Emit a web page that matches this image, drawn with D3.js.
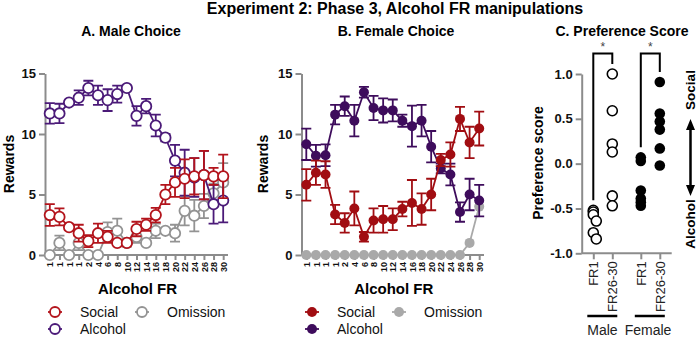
<!DOCTYPE html>
<html>
<head>
<meta charset="utf-8">
<script src="https://cdn.jsdelivr.net/npm/d3@7"></script>
<style>
  body { margin: 0; background: #fff; }
  svg text { font-family: "Liberation Sans", Arial, sans-serif; }
</style>
</head>
<body>
<svg id="chart" width="698" height="337"></svg>
<script>
/**
 * Data
 */
var frLabels = ["1","1","1","1","2","4","6","8","10","12","14","16","18","20","22","24","26","28","30"];

// A. Male choice (means and SEM)
var maleSocial     = [3.3, 3.15, 2.3, 1.8, 1.15, 1.8, 1.5, 1.0, 1.0, 2.15, 2.5, 3.3, 5.0, 6.0, 6.3, 6.5, 6.6, 6.5, 6.5];
var maleSocialErr  = [0.9, 0.7, 0.2, 0.7, 0.5, 0.8, 0.5, 0.15, 0.15, 0.6, 0.5, 0.6, 0.8, 1.2, 1.6, 1.5, 2.0, 0.7, 1.8];
var maleAlcohol    = [11.7, 11.7, 12.6, 13.0, 13.8, 13.2, 12.8, 13.3, 13.8, 11.5, 12.3, 10.7, 9.7, 7.8, 6.8, 6.4, 6.6, 4.2, 4.5];
var maleAlcoholErr = [0.85, 0.8, 0.2, 0.6, 0.6, 0.8, 0.9, 0.7, 0.2, 0.8, 0.6, 0.9, 0.3, 1.3, 1.9, 1.6, 2.0, 1.6, 1.8];
var maleOmission    = [0, 1.0, 0, 1.0, 0, 0, 1.9, 2.0, 1.0, 1.5, 1.0, 2.0, 2.0, 1.8, 3.65, 3.25, 4.05, 5.1, 6.0];
var maleOmissionErr = [0, 0.6, 0, 0.6, 0, 0, 0.8, 1.0, 0.3, 0.5, 0.2, 0.6, 0.2, 0.7, 1.2, 1.3, 1.0, 0.8, 1.6];

// B. Female choice (means and SEM)
var femaleSocial     = [5.8, 6.8, 6.65, 3.35, 2.65, 3.85, 1.5, 2.85, 2.95, 2.95, 3.8, 4.3, 3.8, 5.0, 7.85, 8.3, 11.25, 9.3, 10.45];
var femaleSocialErr  = [1.3, 1.0, 1.1, 0.8, 0.8, 1.4, 0.4, 1.0, 1.1, 0.9, 0.6, 1.9, 1.3, 1.3, 0.5, 1.0, 1.0, 1.3, 1.4];
var femaleAlcohol    = [9.15, 8.2, 8.25, 11.6, 12.3, 11.1, 13.45, 12.15, 11.95, 11.95, 11.1, 10.65, 11.1, 8.95, 7.15, 6.65, 3.55, 5.0, 4.5];
var femaleAlcoholErr = [1.3, 0.9, 0.9, 0.8, 0.8, 1.3, 0.45, 1.0, 1.0, 0.9, 0.5, 1.7, 1.3, 1.3, 0.4, 0.9, 0.8, 1.3, 1.3];
var femaleOmission    = [0, 0, 0, 0, 0, 0, 0, 0, 0, 0, 0, 0, 0, 0, 0, 0, 0, 1.0, 4.0];
var femaleOmissionErr = [0, 0, 0, 0, 0, 0, 0, 0, 0, 0, 0, 0, 0, 0, 0, 0, 0, 0, 0];

// C. Preference score per rat
var prefGroups = ["FR1", "FR26-30", "FR1", "FR26-30"];
var prefSex = ["Male", "Female"];
var maleFR1    = [-0.52, -0.54, -0.57, -0.64, -0.77, -0.84];
var maleFR26   = [1.0, 0.59, 0.22, 0.13, -0.36, -0.47];
var femaleFR1  = [0.07, 0.03, -0.30, -0.39, -0.43, -0.47];
var femaleFR26 = [0.91, 0.56, 0.47, 0.38, 0.17, -0.02];

var axisColor = "#8c8c8c";
var svg = d3.select("#chart");

/**
 * Title
 */
svg.append("text")
    .attr("x", 395).attr("y", 14)
    .attr("text-anchor", "middle")
    .style("font-size", "16px").style("font-weight", "bold")
    .text("Experiment 2: Phase 3, Alcohol FR manipulations");

function styleAxis(g){
    g.select(".domain").attr("stroke", axisColor).attr("stroke-width", 2);
    g.selectAll(".tick line").attr("stroke", axisColor).attr("stroke-width", 2);
    g.selectAll(".tick text").attr("fill", "#111").style("font-weight", "bold");
}

/**
 * Draw one choice panel (A or B)
 */
function drawChoice(opt){
    let g = svg.append("g");

    let xScale = d3.scalePoint()
        .domain(d3.range(frLabels.length))
        .range([opt.left, opt.right])
        .padding(0.5);

    let yScale = d3.scaleLinear()
        .domain([0, 15])
        .range([255, 73.5]);

    // panel title
    g.append("text")
        .attr("x", opt.titleX).attr("y", 36)
        .attr("text-anchor", "middle")
        .style("font-size", "14px").style("font-weight", "bold")
        .text(opt.title);

    // y axis
    g.append("g")
        .attr("transform", `translate(${opt.left},0)`)
        .call(d3.axisLeft(yScale).tickValues([0, 5, 10, 15]).tickSize(6).tickSizeOuter(0).tickPadding(3))
        .call(styleAxis)
        .selectAll(".tick text").style("font-size", "13px");

    // x axis
    let xa = g.append("g")
        .attr("transform", "translate(0,255)")
        .call(d3.axisBottom(xScale).tickSize(5).tickSizeOuter(0)
            .tickFormat(function(i){ return frLabels[i]; }))
        .call(styleAxis);
    xa.select(".domain").attr("d", `M${opt.left},0H${opt.right}`);
    xa.selectAll(".tick text")
        .style("font-size", "9px")
        .attr("transform", "rotate(-90)")
        .attr("text-anchor", "end")
        .attr("x", -7).attr("y", 0).attr("dy", "0.35em");

    // axis titles
    g.append("text")
        .attr("transform", `translate(${opt.yLabelX},164) rotate(-90)`)
        .attr("text-anchor", "middle")
        .attr("dy", "0.35em")
        .style("font-size", "14px").style("font-weight", "bold")
        .text("Rewards");

    g.append("text")
        .attr("x", (opt.left + opt.right) / 2 + 1).attr("y", 294)
        .attr("text-anchor", "middle")
        .style("font-size", "15px").style("font-weight", "bold")
        .text("Alcohol FR");

    let line = d3.line()
        .x(function(d, i){ return xScale(i); })
        .y(function(d){ return yScale(d); });

    // series in drawing order: omission, alcohol, social
    opt.series.forEach(function(s){
        let sg = g.append("g");
        let errs = s.values.map(function(v, i){ return {i: i, v: v, e: s.err[i]}; })
            .filter(function(d){ return d.e > 0; });

        sg.append("path")
            .datum(s.values)
            .attr("d", line)
            .attr("fill", "none")
            .attr("stroke", s.color)
            .attr("stroke-width", 1.8);

        sg.selectAll(".ebar")
            .data(errs)
            .enter()
            .append("path")
            .attr("class", "ebar")
            .attr("d", function(d){
                let x = xScale(d.i), y0 = yScale(d.v - d.e), y1 = yScale(d.v + d.e);
                return `M${x},${y0}V${y1}M${x - 5},${y0}H${x + 5}M${x - 5},${y1}H${x + 5}`;
            })
            .attr("fill", "none")
            .attr("stroke", s.color)
            .attr("stroke-width", 1.8);

        sg.selectAll("circle")
            .data(s.values)
            .enter()
            .append("circle")
            .attr("cx", function(d, i){ return xScale(i); })
            .attr("cy", function(d){ return yScale(d); })
            .attr("r", opt.filled ? 5 : 5.2)
            .style("fill", opt.filled ? s.color : "white")
            .style("stroke", s.color)
            .style("stroke-width", opt.filled ? 0 : 1.8);
    });

    // legend
    let legend = [
        {name: "Social", s: opt.series[2], x: opt.legendX, y: 312},
        {name: "Alcohol", s: opt.series[1], x: opt.legendX, y: 329},
        {name: "Omission", s: opt.series[0], x: opt.legendX + 87, y: 312}
    ];
    legend.forEach(function(d){
        g.append("line")
            .attr("x1", d.x).attr("x2", d.x + 14)
            .attr("y1", d.y).attr("y2", d.y)
            .attr("stroke", d.s.color).attr("stroke-width", 1.8);
        g.append("circle")
            .attr("cx", d.x + 7).attr("cy", d.y).attr("r", 5)
            .style("fill", opt.filled ? d.s.color : "white")
            .style("stroke", d.s.color)
            .style("stroke-width", opt.filled ? 0 : 1.8);
        g.append("text")
            .attr("x", d.x + 32).attr("y", d.y).attr("dy", "0.35em")
            .style("font-size", "14px")
            .attr("fill", "#111")
            .text(d.name);
    });
}

drawChoice({
    title: "A. Male Choice", titleX: 131,
    left: 45, right: 228, yLabelX: 9, legendX: 48, filled: false,
    series: [
        {values: maleOmission, err: maleOmissionErr, color: "#939393"},
        {values: maleAlcohol, err: maleAlcoholErr, color: "#4b1a78"},
        {values: maleSocial, err: maleSocialErr, color: "#b3141c"}
    ]
});

drawChoice({
    title: "B. Female Choice", titleX: 396,
    left: 301.5, right: 484, yLabelX: 263, legendX: 305, filled: true,
    series: [
        {values: femaleOmission, err: femaleOmissionErr, color: "#a9a9a9"},
        {values: femaleAlcohol, err: femaleAlcoholErr, color: "#3e0c5c"},
        {values: femaleSocial, err: femaleSocialErr, color: "#a10d12"}
    ]
});

/**
 * C. Preference score
 */
function drawPreference(){
    let g = svg.append("g");
    let left = 581.7, right = 671.7;

    let xScale = d3.scaleLinear().domain([0, 3.5]).range([593.3, 659.8]);
    let yScale = d3.scaleLinear().domain([-1, 1]).range([253.3, 74]);
    let groupPos = [0, 1, 2.5, 3.5];

    g.append("text")
        .attr("x", 622).attr("y", 36)
        .attr("text-anchor", "middle")
        .style("font-size", "14px").style("font-weight", "bold")
        .text("C. Preference Score");

    g.append("g")
        .attr("transform", `translate(${left},0)`)
        .call(d3.axisLeft(yScale).tickValues([-1, -0.5, 0, 0.5, 1]).tickFormat(d3.format(".1f"))
            .tickSize(6).tickSizeOuter(0).tickPadding(3))
        .call(styleAxis)
        .selectAll(".tick text").style("font-size", "13px")
        .text(function(d){ return d3.format(".1f")(d).replace("−", "-"); });

    let xa = g.append("g")
        .attr("transform", `translate(0,${yScale(-1)})`)
        .call(d3.axisBottom(d3.scaleOrdinal().domain([0, 1, 2, 3]).range(groupPos.map(xScale)))
            .tickSize(6).tickSizeOuter(0).tickFormat(function(i){ return prefGroups[i]; }))
        .call(styleAxis);
    xa.select(".domain").attr("d", `M${left},0H${right}`);
    xa.selectAll(".tick text")
        .style("font-size", "13px").style("font-weight", "normal")
        .attr("fill", "#222")
        .attr("transform", "rotate(-90)")
        .attr("text-anchor", "end")
        .attr("x", -8).attr("y", 0).attr("dy", "0.35em");

    g.append("text")
        .attr("transform", `translate(538,163) rotate(-90)`)
        .attr("text-anchor", "middle").attr("dy", "0.35em")
        .style("font-size", "14px").style("font-weight", "bold")
        .text("Preference score");

    // points with a small deterministic spread to avoid overlap
    let groups = [
        {vals: maleFR1, pos: 0, filled: false},
        {vals: maleFR26, pos: 1, filled: false},
        {vals: femaleFR1, pos: 2.5, filled: true},
        {vals: femaleFR26, pos: 3.5, filled: true}
    ];
    groups.forEach(function(grp){
        let placed = [];
        let cx = xScale(grp.pos);
        grp.vals.slice().sort(d3.descending).forEach(function(v){
            let cy = yScale(v);
            let offs = [0, 3, -3, 5, -5];
            let dx = offs.find(function(o){
                return placed.every(function(p){ return Math.hypot(p.x - (cx + o), p.y - cy) > 6.5; });
            });
            if (dx === undefined) dx = 0;
            placed.push({x: cx + dx, y: cy});
        });
        g.selectAll(null)
            .data(placed)
            .enter()
            .append("circle")
            .attr("cx", function(d){ return d.x; })
            .attr("cy", function(d){ return d.y; })
            .attr("r", grp.filled ? 5.3 : 5)
            .style("fill", grp.filled ? "black" : "white")
            .style("stroke", "black")
            .style("stroke-width", grp.filled ? 0 : 1.6);
    });

    // significance brackets
    [[maleFR1, maleFR26, 0, 1], [femaleFR1, femaleFR26, 2.5, 3.5]].forEach(function(b){
        let x0 = xScale(b[2]), x1 = xScale(b[3]), top = 53.5;
        g.append("path")
            .attr("d", `M${x0},${yScale(d3.max(b[0])) - 10}V${top}H${x1}V${yScale(d3.max(b[1])) - 10}`)
            .attr("fill", "none")
            .attr("stroke", "black")
            .attr("stroke-width", 2);
        g.append("text")
            .attr("x", (x0 + x1) / 2).attr("y", 50.5)
            .attr("text-anchor", "middle")
            .style("font-size", "12px").attr("fill", "#444")
            .text("*");
    });

    // sex group bars
    [[0, 1], [2.5, 3.5]].forEach(function(r, i){
        let x0 = xScale(r[0]) - 6, x1 = xScale(r[1]) + 5;
        g.append("line")
            .attr("x1", x0).attr("x2", x1)
            .attr("y1", 316).attr("y2", 316)
            .attr("stroke", "black").attr("stroke-width", 2.5);
        g.append("text")
            .attr("x", i === 0 ? 602.5 : 648).attr("y", 335)
            .attr("text-anchor", "middle")
            .style("font-size", "14px").attr("fill", "#222")
            .text(prefSex[i]);
    });

    // direction arrow
    let ax = 690.5;
    g.append("line")
        .attr("x1", ax).attr("x2", ax)
        .attr("y1", 126).attr("y2", 189)
        .attr("stroke", "black").attr("stroke-width", 2.5);
    g.append("path")
        .attr("d", `M${ax},119L${ax - 4.5},130L${ax + 4.5},130Z M${ax},196L${ax - 4.5},185L${ax + 4.5},185Z`)
        .attr("fill", "black");
    g.append("text")
        .attr("transform", `translate(${ax},90) rotate(-90)`)
        .attr("text-anchor", "middle").attr("dy", "0.35em")
        .style("font-size", "13.5px").style("font-weight", "bold")
        .text("Social");
    g.append("text")
        .attr("transform", `translate(${ax},224) rotate(-90)`)
        .attr("text-anchor", "middle").attr("dy", "0.35em")
        .style("font-size", "13.5px").style("font-weight", "bold")
        .text("Alcohol");
}

drawPreference();
</script>
</body>
</html>
